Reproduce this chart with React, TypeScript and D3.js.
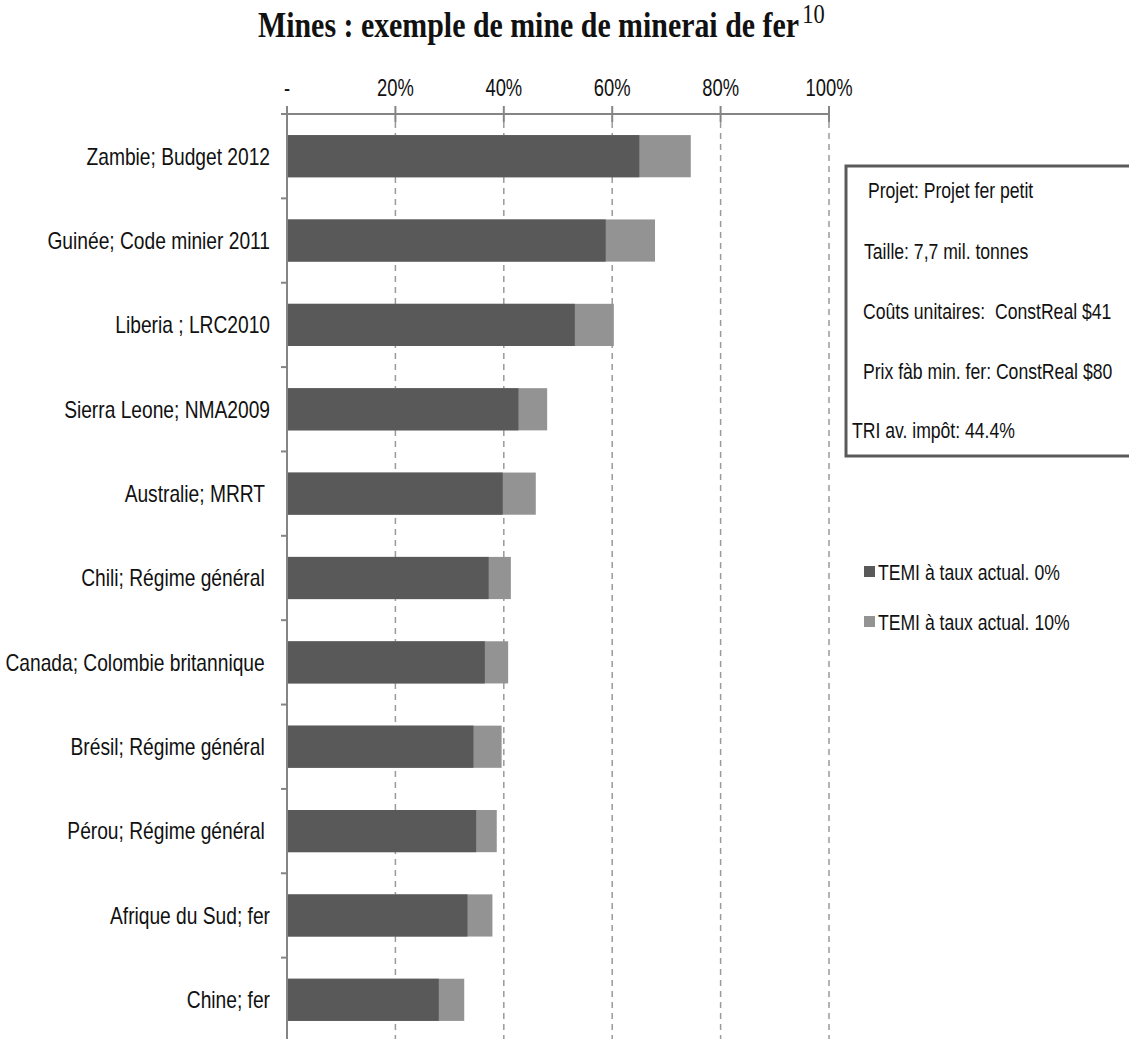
import React, { useEffect, useRef } from 'react'
import * as d3 from 'd3'

const categories = [
  'Zambie; Budget 2012',
  'Guinée; Code minier 2011',
  'Liberia ; LRC2010',
  'Sierra Leone; NMA2009',
  'Australie; MRRT ',
  'Chili; Régime général ',
  'Canada; Colombie britannique ',
  'Brésil; Régime général ',
  'Pérou; Régime général ',
  'Afrique du Sud; fer',
  'Chine; fer',
]

// TEMI à taux actual. 0% (dark) and 10% (light)
const temi0 = [0.65, 0.588, 0.531, 0.427, 0.398, 0.372, 0.365, 0.344, 0.349, 0.333, 0.28]
const temi10 = [0.745, 0.679, 0.603, 0.48, 0.459, 0.413, 0.408, 0.396, 0.387, 0.379, 0.327]

const xTicks = [0, 0.2, 0.4, 0.6, 0.8, 1]
const seriesNames = ['TEMI à taux actual. 0%', 'TEMI à taux actual. 10%']
const seriesColors = ['#595959', '#939393']

const infoLines = [
  'Projet: Projet fer petit',
  'Taille: 7,7 mil. tonnes',
  'Coûts unitaires:  ConstReal $41',
  'Prix fàb min. fer: ConstReal $80',
  'TRI av. impôt: 44.4%',
]

const sans = '"Liberation Sans", Arial, sans-serif'
// the reference type is condensed, so texts get squeezed horizontally
const squeeze = 0.8

export default function App() {
  const ref = useRef<SVGSVGElement>(null)

  useEffect(() => {
    const width = 1129
    const height = 1039
    const svg = d3.select(ref.current)
    svg.selectAll('*').remove()
    svg.attr('width', width).attr('height', height)

    const x = d3.scaleLinear().domain([0, 1]).range([287, 829])
    const y = d3.scaleBand<string>()
      .domain(categories)
      .range([114, 1042])
      .paddingInner(0.5)
      .paddingOuter(0.25)
    const step = y.step()
    const top = 114

    const label = (g, px, py, size, anchor = 'start') => g.append('g')
      .attr('transform', `translate(${px},${py}) scale(${squeeze},1)`)
      .append('text')
      .attr('text-anchor', anchor)
      .attr('font-family', sans)
      .attr('font-size', size)
      .attr('fill', '#111')
      .style('white-space', 'pre')

    // title
    const title = svg.append('g')
      .attr('transform', 'translate(258,37) scale(0.83,1)')
      .append('text')
      .attr('font-family', '"Liberation Serif", "Times New Roman", serif')
      .attr('font-weight', 'bold')
      .attr('font-size', 36)
      .attr('fill', '#111')
      .text('Mines : exemple de mine de minerai de fer')
    title.append('tspan')
      .attr('font-size', 27)
      .attr('font-weight', 'normal')
      .attr('dx', 4)
      .attr('dy', -14)
      .text('10')

    // vertical dashed gridlines
    svg.append('g')
      .selectAll('line')
      .data(xTicks.slice(1))
      .join('line')
      .attr('x1', d => x(d))
      .attr('x2', d => x(d))
      .attr('y1', top + 8)
      .attr('y2', height)
      .attr('stroke', '#9a9a9a')
      .attr('stroke-width', 1.5)
      .attr('stroke-dasharray', '6,5')

    // bars: light (10%) behind, dark (0%) in front
    const bars = svg.append('g')
    bars.selectAll('rect.b10')
      .data(categories)
      .join('rect')
      .attr('class', 'b10')
      .attr('x', x(0))
      .attr('y', d => y(d)!)
      .attr('width', (d, i) => x(temi10[i]) - x(0))
      .attr('height', y.bandwidth())
      .attr('fill', seriesColors[1])
    bars.selectAll('rect.b0')
      .data(categories)
      .join('rect')
      .attr('class', 'b0')
      .attr('x', x(0))
      .attr('y', d => y(d)!)
      .attr('width', (d, i) => x(temi0[i]) - x(0))
      .attr('height', y.bandwidth())
      .attr('fill', seriesColors[0])

    // x axis on top
    const axisColor = '#858585'
    svg.append('line')
      .attr('x1', x(0) - 6).attr('x2', x(1))
      .attr('y1', top).attr('y2', top)
      .attr('stroke', axisColor).attr('stroke-width', 2)
    svg.append('g')
      .selectAll('line')
      .data(xTicks)
      .join('line')
      .attr('x1', d => x(d)).attr('x2', d => x(d))
      .attr('y1', top - 8).attr('y2', top + 8)
      .attr('stroke', axisColor).attr('stroke-width', 2)
    const xLabels = svg.append('g')
    xTicks.forEach(t => {
      label(xLabels, x(t), 96, 23, 'middle').text(t === 0 ? '-' : d3.format('.0%')(t))
    })

    // y axis
    svg.append('line')
      .attr('x1', x(0)).attr('x2', x(0))
      .attr('y1', top - 8).attr('y2', height)
      .attr('stroke', axisColor).attr('stroke-width', 2)
    svg.append('g')
      .selectAll('line')
      .data(d3.range(1, categories.length))
      .join('line')
      .attr('x1', x(0) - 6).attr('x2', x(0))
      .attr('y1', i => top + i * step).attr('y2', i => top + i * step)
      .attr('stroke', axisColor).attr('stroke-width', 2)
    const yLabels = svg.append('g')
    categories.forEach(c => {
      label(yLabels, 270, y(c)! + y.bandwidth() / 2, 24, 'end')
        .attr('dy', '0.35em')
        .text(c)
    })

    // info box
    svg.append('rect')
      .attr('x', 846).attr('y', 166)
      .attr('width', 300).attr('height', 290)
      .attr('fill', '#fff')
      .attr('stroke', '#5a5a5a')
      .attr('stroke-width', 3)
    const infoX = [868, 864, 863, 863, 852]
    const infoY = [190, 251, 311, 371, 430]
    const info = svg.append('g')
    infoLines.forEach((t, i) => {
      label(info, infoX[i], infoY[i], 22).attr('dy', '0.35em').text(t)
    })

    // legend
    const legend = svg.append('g')
    seriesNames.forEach((s, i) => {
      const cy = 572 + i * 50
      legend.append('rect')
        .attr('x', 864).attr('y', cy - 6)
        .attr('width', 11).attr('height', 11)
        .attr('fill', seriesColors[i])
      label(legend, 878, cy, 22).attr('dy', '0.35em').text(s)
    })
  }, [])

  return (
    <svg ref={ref} style={{ position: 'absolute', left: 0, top: 0, background: '#fff' }}></svg>
  )
}
